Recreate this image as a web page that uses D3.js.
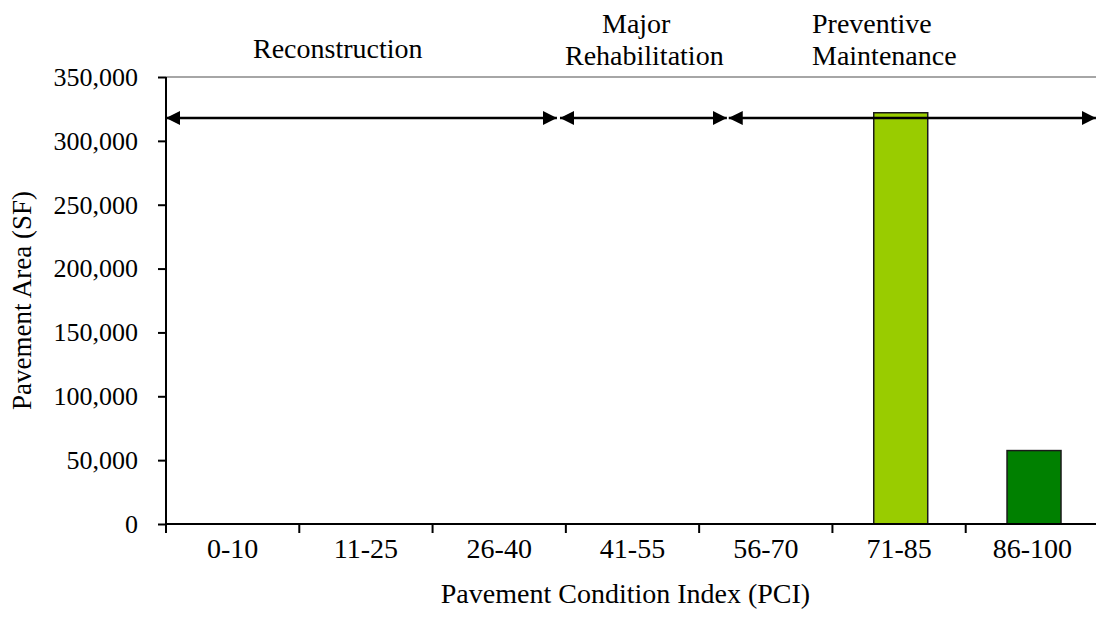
<!DOCTYPE html>
<html>
<head>
<meta charset="utf-8">
<script src="https://cdn.jsdelivr.net/npm/d3@7/dist/d3.min.js"></script>
<style>
  body { margin: 0; background: #fff; }
  svg { display: block; font-family: "Liberation Serif", "Times New Roman", serif; }
  .axis path, .axis line { stroke: #000; stroke-width: 2px; }
  .axis text { font-family: "Liberation Serif", serif; fill: #000; }
</style>
</head>
<body>
<div id="chart-area"></div>
<script>

// DATA
var categories = ["0-10", "11-25", "26-40", "41-55", "56-70", "71-85", "86-100"];
var areas = [0, 0, 0, 0, 0, 322000, 57500];
var barColors = ["#99cc00", "#99cc00", "#99cc00", "#99cc00", "#99cc00", "#99cc00", "#008000"];
var yTicks = [0, 50000, 100000, 150000, 200000, 250000, 300000, 350000];

// treatment ranges, in category units along the x axis
var treatments = ["Reconstruction", "Major Rehabilitation", "Preventive Maintenance"];
var spanStart = [0, 2.956, 4.222];
var spanEnd = [2.933, 4.208, 6.977];

// SVG drawing area
var margin = {top: 77, right: 0, bottom: 113, left: 166};
var width = 933,
    height = 637 - margin.top - margin.bottom;

var svg = d3.select("#chart-area").append("svg")
    .attr("width", 1096)
    .attr("height", 637)
    .append("g")
    .attr("transform", "translate(" + margin.left + "," + margin.top + ")");

//SCALES
var x = d3.scaleBand()
    .domain(categories)
    .range([0, width])
    .padding(0);

var xPos = d3.scaleLinear()
    .domain([0, categories.length])
    .range([0, width]);

var y = d3.scaleLinear()
    .domain([0, 350000])
    .range([height, 0]);

// top border of plot area
svg.append("line")
    .attr("x1", 0).attr("x2", width)
    .attr("y1", 0).attr("y2", 0)
    .attr("stroke", "#888")
    .attr("stroke-width", 1.5);

//BARS
var data = categories.map(function(c, i){ return {cat: c, value: areas[i], color: barColors[i]}; });
var bw = x.bandwidth();

svg.selectAll(".bar")
    .data(data.filter(function(d){ return d.value > 0; }))
    .enter().append("rect")
    .attr("class", "bar")
    .attr("x", function(d){ return x(d.cat) + bw * 0.31; })
    .attr("width", bw * 0.405)
    .attr("y", function(d){ return y(d.value); })
    .attr("height", function(d){ return height - y(d.value); })
    .attr("fill", function(d){ return d.color; })
    .attr("stroke", "#1a1a1a")
    .attr("stroke-width", 1.5);

//AXES
var yAxis = d3.axisLeft(y)
    .tickValues(yTicks)
    .tickSize(8)
    .tickPadding(20)
    .tickFormat(d3.format(","));

svg.append("g")
    .attr("class", "axis y-axis")
    .call(yAxis)
    .call(function(g){ g.select(".domain").attr("d", "M0," + height + "V0"); })
    .selectAll("text")
    .style("font-size", "26px");

var xAxis = d3.axisBottom(x)
    .tickSize(0)
    .tickPadding(14);

var gx = svg.append("g")
    .attr("class", "axis x-axis")
    .attr("transform", "translate(0," + height + ")")
    .call(xAxis);
gx.select(".domain").attr("d", "M0,0H" + width);
gx.selectAll("text").style("font-size", "28px");

// ticks at category boundaries
gx.selectAll(".bound")
    .data(d3.range(categories.length + 1))
    .enter().append("line")
    .attr("class", "bound")
    .attr("x1", function(d){ return xPos(d); })
    .attr("x2", function(d){ return xPos(d); })
    .attr("y1", 0)
    .attr("y2", 9);

//LABELS
svg.append("text")
    .attr("class", "ylabel")
    .attr("transform", "rotate(270)")
    .attr("x", -height / 2)
    .attr("y", -135)
    .style("text-anchor", "middle")
    .style("font-size", "27px")
    .text("Pavement Area (SF)");

svg.append("text")
    .attr("class", "xlabel")
    .attr("x", width / 2 - 7)
    .attr("y", height + 79)
    .style("text-anchor", "middle")
    .style("font-size", "28px")
    .text("Pavement Condition Index (PCI)");

//ARROWS
var defs = d3.select("svg").append("defs");
["start", "end"].forEach(function(k){
    defs.append("marker")
        .attr("id", "head-" + k)
        .attr("viewBox", "0 0 14 14")
        .attr("refX", 14).attr("refY", 7)
        .attr("markerWidth", 14).attr("markerHeight", 14)
        .attr("markerUnits", "userSpaceOnUse")
        .attr("orient", k === "end" ? "auto" : "auto-start-reverse")
        .append("path")
        .attr("d", "M0,0L14,7L0,14Z")
        .attr("fill", "#000");
});

var arrowY = 41;
svg.selectAll(".span")
    .data(treatments)
    .enter().append("line")
    .attr("class", "span")
    .attr("x1", function(d, i){ return xPos(spanStart[i]); })
    .attr("x2", function(d, i){ return xPos(spanEnd[i]); })
    .attr("y1", arrowY).attr("y2", arrowY)
    .attr("stroke", "#000")
    .attr("stroke-width", 2.5)
    .attr("marker-start", "url(#head-start)")
    .attr("marker-end", "url(#head-end)");

// treatment names above the plot
var labelLines = [["Reconstruction"], ["Major", "Rehabilitation"], ["Preventive", "Maintenance"]];
var labelX = [[87], [436, 399], [646, 646]];
var labelY = [[-19], [-44, -12], [-44, -12]];

labelLines.forEach(function(lines, i){
    lines.forEach(function(t, j){
        svg.append("text")
            .attr("class", "treat")
            .attr("x", labelX[i][j])
            .attr("y", labelY[i][j])
            .style("font-size", "28px")
            .text(t);
    });
});

</script>
</body>
</html>
